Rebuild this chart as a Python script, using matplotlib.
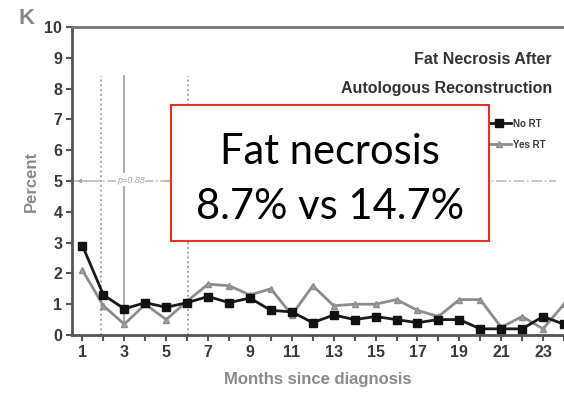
import numpy as np
import matplotlib
matplotlib.use('Agg')
import matplotlib.pyplot as plt

months = np.arange(1, 25)
no_rt = [2.9, 1.3, 0.85, 1.05, 0.9, 1.05, 1.25, 1.05, 1.2, 0.8, 0.75, 0.4,
         0.65, 0.5, 0.6, 0.5, 0.4, 0.5, 0.5, 0.2, 0.2, 0.2, 0.6, 0.35]
yes_rt = [2.1, 0.95, 0.35, 1.0, 0.5, 1.1, 1.65, 1.6, 1.3, 1.5, 0.65, 1.6,
          0.95, 1.0, 1.0, 1.15, 0.8, 0.6, 1.15, 1.15, 0.25, 0.6, 0.2, 1.0]

title_lines = ['Fat Necrosis After', 'Autologous Reconstruction']
series_names = ['No RT', 'Yes RT']
p_labels = ['p=0.88', 'p=0.01']
box_lines = ['Fat necrosis', '8.7% vs 14.7%']

narrow = ['Liberation Sans', 'DejaVu Sans']
ink = '#3a3a3a'
soft = '#8a8a8a'

fig = plt.figure(figsize=(5.64, 3.95), dpi=100)
ax = fig.add_axes([72 / 564, 1 - 335 / 395, 1 - 72 / 564, 308 / 395])
ax.set_xlim(0.5, 23.6)
ax.set_ylim(0, 10)

# period markers
ax.axvline(1.9, ymin=0, ymax=0.84, color='#999999', ls=':', lw=1.3)
ax.axvline(6.05, ymin=0, ymax=0.84, color='#999999', ls=':', lw=1.3)
ax.plot([3, 3], [0.35, 4.85], color='#b0b0b0', lw=1.5)
ax.plot([3, 3], [5.3, 8.4], color='#b0b0b0', lw=1.5)

# p-value brackets along y=5
ax.plot([0.5, 23.6], [5, 5], color='#bdbdbd', ls='-.', lw=1.2, zorder=1)
for tip, tail in [(0.6, 1.5), (5.7, 4.8), (6.3, 7.2)]:
    ax.annotate('', xy=(tip, 5), xytext=(tail, 5),
                arrowprops=dict(arrowstyle='-|>', color='#aaaaaa', lw=0.8, mutation_scale=6))
ax.text(3.3, 5, p_labels[0], fontsize=6.5, style='italic', color='#aaaaaa',
        ha='center', va='center', family=narrow,
        bbox=dict(fc='white', ec='none', pad=0.5))
ax.text(14.6, 5, p_labels[1], fontsize=6.5, style='italic', color='#aaaaaa',
        ha='center', va='center', family=narrow,
        bbox=dict(fc='white', ec='none', pad=0.5))

ax.plot(months, yes_rt, color='#8c8c8c', lw=2.0, marker='^', ms=5,
        mfc='#a0a0a0', mec='#8c8c8c', label=series_names[1], zorder=3)
ax.plot(months, no_rt, color='#1a1a1a', lw=2.0, marker='s', ms=6,
        mfc='#111111', mec='#111111', label=series_names[0], zorder=4)

for side in ['left', 'bottom', 'top']:
    ax.spines[side].set_color('#555555')
    ax.spines[side].set_linewidth(2)
ax.spines['top'].set_color('#777777')
ax.spines['right'].set_visible(False)

ax.set_yticks(range(0, 11))
ax.set_xticks(months)
ax.set_xticklabels([str(m) if m % 2 == 1 else '' for m in months])
ax.tick_params(axis='both', colors='#555555', width=1.5, length=4, pad=3)
for lab in ax.get_xticklabels() + ax.get_yticklabels():
    lab.set_family(narrow)
    lab.set_fontweight('bold')
    lab.set_fontsize(11.5)
    lab.set_color(ink)

ax.set_ylabel('Percent', family=narrow, fontweight='bold', fontsize=12,
              color=soft, labelpad=4)
ax.set_xlabel('Months since diagnosis', family=narrow, fontweight='bold',
              fontsize=12, color=soft, labelpad=9)

fig.text(27 / 564, 1 - 18 / 395, 'K', family=narrow, fontweight='bold',
         fontsize=16, color='#888888', ha='center', va='center')

fig.text(552 / 564, 1 - 59 / 395, title_lines[0], family=narrow, fontweight='bold',
         fontsize=11.5, color='#333333', ha='right', va='center')
fig.text(552 / 564, 1 - 89 / 395, title_lines[1], family=narrow, fontweight='bold',
         fontsize=11.5, color='#333333', ha='right', va='center')

lines = ax.get_lines()
leg = fig.legend(handles=[lines[-1], lines[-2]], loc='upper right',
                 bbox_to_anchor=(550 / 564, 1 - 114 / 395),
                 frameon=False, handlelength=2.4, handletextpad=0.2, labelspacing=1.1,
                 borderpad=0, prop=dict(family=narrow, weight='bold', size=7))
for t in leg.get_texts():
    t.set_color(ink)

# red call-out box
box = plt.Rectangle((171 / 564, 1 - 241 / 395), (489 - 171) / 564, (241 - 105) / 395,
                    transform=fig.transFigure, fill=True, fc='white', ec='#e8321e', lw=1.5,
                    zorder=10)
fig.add_artist(box)
fig.text(330 / 564, 1 - 152 / 395, box_lines[0], family=['Lato', 'DejaVu Sans'],
         fontsize=30, color='black', ha='center', va='center', zorder=11)
fig.text(330 / 564, 1 - 207 / 395, box_lines[1], family=['Lato', 'DejaVu Sans'],
         fontsize=30, color='black', ha='center', va='center', zorder=11)

fig.savefig('out.png', dpi=100)
